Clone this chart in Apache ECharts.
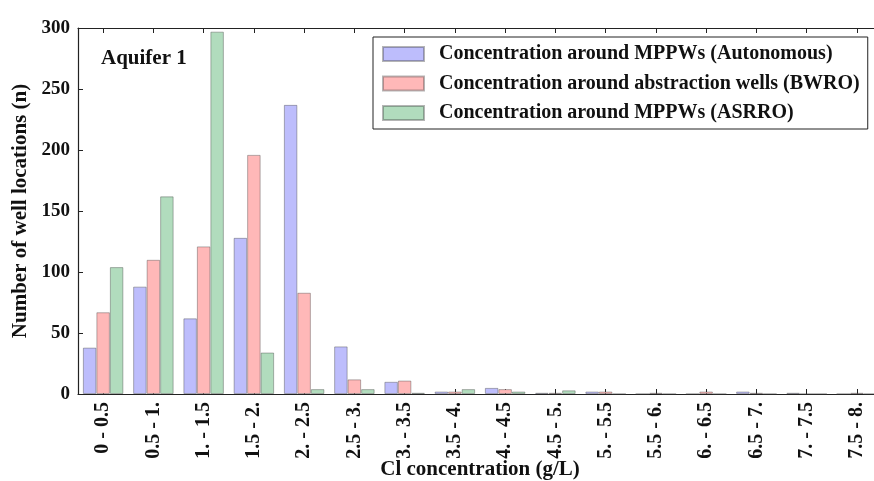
<!DOCTYPE html>
<html>
<head>
<meta charset="utf-8">
<script src="https://cdn.jsdelivr.net/npm/echarts@6/dist/echarts.min.js"></script>
<style>
  html, body { margin: 0; padding: 0; background: #ffffff; }
  #chart { width: 874px; height: 481px; }
</style>
</head>
<body>
<div id="chart"></div>
<script>
// Cl concentration classes (g/L)
const categories = ['0 - 0.5', '0.5 - 1.', '1. - 1.5', '1.5 - 2.', '2. - 2.5', '2.5 - 3.', '3. - 3.5', '3.5 - 4.',
  '4. - 4.5', '4.5 - 5.', '5. - 5.5', '5.5 - 6.', '6. - 6.5', '6.5 - 7.', '7. - 7.5', '7.5 - 8.'];

// Number of well locations per class
const autonomous = [38, 88, 62, 128, 237, 39, 10, 2, 5, 1, 2, 0, 0, 2, 1, 0];
const bwro       = [67, 110, 121, 196, 83, 12, 11, 2, 4, 1, 2, 1, 2, 1, 0, 1];
const asrro      = [104, 162, 297, 34, 4, 4, 1, 4, 2, 3, 0, 0, 0, 0, 0, 0];

const seriesNames = [
  'Concentration around MPPWs (Autonomous)',
  'Concentration around abstraction wells (BWRO)',
  'Concentration around MPPWs (ASRRO)'
];

const yTicks = { min: 0, max: 300, interval: 50 };
const xTitle = 'Cl concentration (g/L)';

const FONT = '"Liberation Serif", "Times New Roman", serif';
const colors = ['#bdbdfc', '#ffb8b8', '#b1dcbd'];

const chart = echarts.init(document.getElementById('chart'), null, { renderer: 'canvas' });

function barSeries(name, data, color) {
  return {
    name: name,
    type: 'bar',
    xAxisIndex: 0,
    yAxisIndex: 0,
    data: data,
    barWidth: 13.5,
    barGap: '0%',
    itemStyle: { color: color, borderColor: 'rgba(60,60,60,0.38)', borderWidth: 1 },
    emphasis: { disabled: true }
  };
}

chart.setOption({
  animation: false,
  backgroundColor: '#ffffff',
  textStyle: { fontFamily: FONT },
  grid: { left: 78, top: 28, right: -8, bottom: 87, containLabel: false, outerBoundsMode: 'none' },
  title: {
    text: 'Aquifer 1',
    left: 96,
    top: 43,
    textStyle: { fontFamily: FONT, fontWeight: 'bold', fontSize: 21, color: '#111' }
  },
  // x-axis title placed below the rotated category labels
  graphic: [{
    type: 'text',
    x: 480,
    y: 470,
    silent: true,
    style: {
      text: xTitle,
      textAlign: 'center',
      textVerticalAlign: 'middle',
      fontFamily: FONT,
      fontWeight: 'bold',
      fontSize: 21,
      fill: '#111'
    }
  }],
  legend: {
    data: seriesNames,
    orient: 'vertical',
    left: 373,
    top: 37,
    padding: [7, 8, 6, 9],
    itemWidth: 41,
    itemHeight: 14,
    itemGap: 9.5,
    borderColor: '#222',
    borderWidth: 1,
    backgroundColor: '#ffffff',
    icon: 'rect',
    textStyle: { fontFamily: FONT, fontWeight: 'bold', fontSize: 20, color: '#111', lineHeight: 20, padding: [0, 0, 0, 10] }
  },
  xAxis: [
    {
      type: 'category',
      data: categories,
      position: 'bottom',
      axisLine: { show: true, lineStyle: { color: '#222', width: 1.2 } },
      axisTick: { show: true, inside: true, alignWithLabel: true, length: 5, lineStyle: { color: '#222' } },
      axisLabel: { rotate: 90, margin: 8, fontFamily: FONT, fontWeight: 'bold', fontSize: 20, color: '#111', interval: 0 }
    },
    {
      type: 'category',
      data: categories,
      position: 'top',
      axisLine: { show: true, lineStyle: { color: '#222', width: 1.2 } },
      axisTick: { show: true, inside: true, alignWithLabel: true, length: 5, lineStyle: { color: '#222' } },
      axisLabel: { show: false }
    }
  ],
  yAxis: [
    {
      type: 'value',
      min: yTicks.min,
      max: yTicks.max,
      interval: yTicks.interval,
      name: 'Number of well locations (n)',
      nameLocation: 'middle',
      nameGap: 46,
      nameTextStyle: { fontFamily: FONT, fontWeight: 'bold', fontSize: 21, color: '#111' },
      axisLine: { show: true, lineStyle: { color: '#222', width: 1.2 } },
      axisTick: { show: true, inside: true, length: 5, lineStyle: { color: '#222' } },
      axisLabel: { margin: 8, fontFamily: FONT, fontWeight: 'bold', fontSize: 19, color: '#111' },
      splitLine: { show: false }
    }
  ],
  series: [
    barSeries(seriesNames[0], autonomous, colors[0]),
    barSeries(seriesNames[1], bwro, colors[1]),
    barSeries(seriesNames[2], asrro, colors[2])
  ]
});
</script>
</body>
</html>
